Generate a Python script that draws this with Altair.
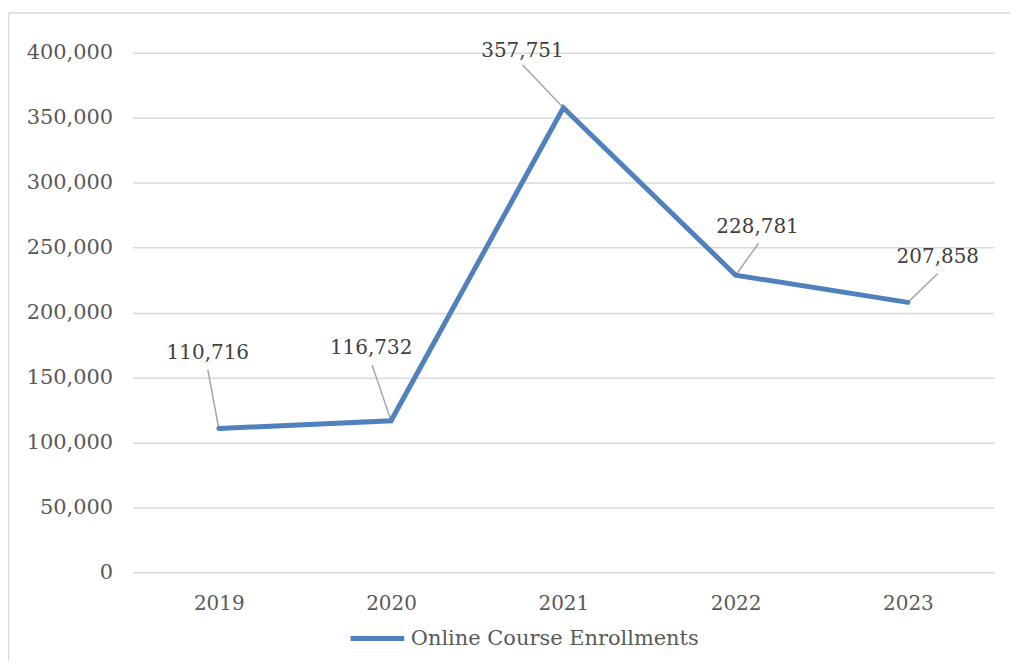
import altair as alt
import pandas as pd

years = ["2019", "2020", "2021", "2022", "2023"]
enrollments = [110716, 116732, 357751, 228781, 207858]
series_name = "Online Course Enrollments"
y_ticks = [0, 50000, 100000, 150000, 200000, 250000, 300000, 350000, 400000]

# data-label placement (pixel offsets from each point)
label_dx = [-11, -20, -41, 22, 30]
label_dy = [-76, -73, -57, -48, -45]
leader_dx = [-11, -19, -41, 23, 30]
leader_dy = [-59, -56, -43, -32, -29]

FONT = "DejaVu Serif"
FS = 20
GRID = "#D9D9D9"

df = pd.DataFrame({"Year": years, "Enrollments": enrollments, "Series": [series_name] * len(years)})

x_enc = alt.X(
    "Year:O",
    scale=alt.Scale(type="point", padding=0.5),
    axis=alt.Axis(title=None, labelAngle=0, ticks=False, domain=False, grid=False,
                  labelPadding=21, labelFont=FONT, labelFontSize=FS, labelColor="#595959"),
)
y_enc = alt.Y(
    "Enrollments:Q",
    scale=alt.Scale(domain=[0, 400000], nice=False, zero=True),
    axis=alt.Axis(title=None, values=y_ticks, labelExpr="format(datum.value, ',')",
                  ticks=False, domain=False,
                  grid=True, gridColor=GRID, gridWidth=1.5, labelPadding=20,
                  labelFont=FONT, labelFontSize=21, labelColor="#595959"),
)

base = alt.Chart(df)

layers = []

# chart frame (decorative)
frame_df = pd.DataFrame({"k": [0]})
top_border = alt.Chart(frame_df).mark_rule(color=GRID, strokeWidth=1.5).encode(
    x=alt.value(-124.5), x2=alt.value(880), y=alt.value(-40), y2=alt.value(-40))
left_border = alt.Chart(frame_df).mark_rule(color=GRID, strokeWidth=1.5).encode(
    x=alt.value(-124.5), x2=alt.value(-124.5), y=alt.value(-40), y2=alt.value(620))
layers += [top_border, left_border]

for i, yr in enumerate(years):
    layers.append(
        base.transform_filter(alt.datum.Year == yr)
        .mark_rule(color="#A6A6A6", strokeWidth=1.5, x2Offset=leader_dx[i], y2Offset=leader_dy[i])
        .encode(x=x_enc, y=y_enc, x2=alt.X2("Year"), y2=alt.Y2("Enrollments"))
    )

line = base.mark_line(strokeWidth=5, strokeCap="round", strokeJoin="miter").encode(
    x=x_enc,
    y=y_enc,
    color=alt.Color(
        "Series:N",
        scale=alt.Scale(range=["#4F81BD"]),
        legend=alt.Legend(title=None, orient="none", legendX=216, legendY=558,
                          symbolType="stroke", symbolSize=2900, symbolStrokeWidth=5,
                          labelFont=FONT, labelFontSize=21, labelColor="#595959",
                          labelOffset=4, labelLimit=500),
    ),
)
layers.append(line)

for i, yr in enumerate(years):
    layers.append(
        base.transform_filter(alt.datum.Year == yr)
        .mark_text(dx=label_dx[i], dy=label_dy[i], font=FONT, fontSize=FS, color="#404040")
        .encode(x=x_enc, y=y_enc, text=alt.Text("Enrollments:Q", format=","))
    )

chart = alt.layer(*layers).properties(
    width=864,
    height=521,
    autosize=alt.AutoSizeParams(type="none"),
    padding={"left": 125, "top": 44, "right": 16, "bottom": 88},
    background="white",
).configure_view(stroke=None)

chart.save("out.html", embed_options={"renderer": "svg", "actions": False})
